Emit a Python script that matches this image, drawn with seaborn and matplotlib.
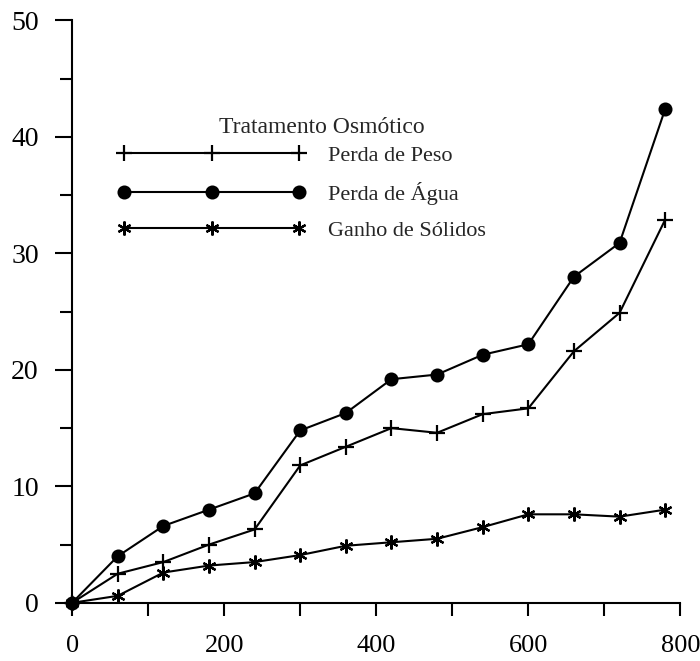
import pandas as pd
import numpy as np
import matplotlib
matplotlib.use('Agg')
import matplotlib.pyplot as plt
import seaborn as sns

# Dados (tempo em minutos, valores em %)
tempo = [0, 60, 120, 180, 240, 300, 360, 420, 480, 540, 600, 660, 720, 780]
perda_peso = [0, 2.5, 3.5, 5.0, 6.3, 11.8, 13.4, 15.0, 14.6, 16.2, 16.7, 21.6, 24.9, 32.9]
perda_agua = [0, 4.0, 6.6, 8.0, 9.4, 14.8, 16.3, 19.2, 19.6, 21.3, 22.2, 28.0, 30.9, 42.4]
ganho_solidos = [0, 0.6, 2.6, 3.2, 3.5, 4.1, 4.9, 5.2, 5.5, 6.5, 7.6, 7.6, 7.4, 8.0]

series = ['Perda de Peso', 'Perda de Água', 'Ganho de Sólidos']
valores = [perda_peso, perda_agua, ganho_solidos]
marcadores = ['+', 'o', (6, 2, 0)]
tamanhos = [11, 8.5, 10]

x_ticks = [0, 200, 400, 600, 800]
x_minor = [100, 300, 500, 700]
y_ticks = [0, 10, 20, 30, 40, 50]
y_minor = [5, 15, 25, 35, 45]

sns.set_style('ticks')
plt.rcParams['font.family'] = ['Liberation Serif', 'DejaVu Serif']

fig = plt.figure(figsize=(7, 6.61), dpi=100)
ax = fig.add_axes([0.103, 0.088, 0.869, 0.881])

for nome, vals, mk, ms in zip(series, valores, marcadores, tamanhos):
    df = pd.DataFrame({'tempo': tempo, 'valor': vals})
    sns.lineplot(data=df, x='tempo', y='valor', ax=ax, color='black',
                 marker=mk, markersize=ms, markeredgecolor='black',
                 markerfacecolor='black', markeredgewidth=1.6,
                 linewidth=1.5, label=nome, clip_on=False)

ax.set_xlim(0, 800)
ax.set_ylim(0, 50)
ax.set_xticks(x_ticks)
ax.set_xticks(x_minor, minor=True)
ax.set_yticks(y_ticks)
ax.set_yticks(y_minor, minor=True)
ax.set_xlabel('')
ax.set_ylabel('')

sns.despine(ax=ax)
for s in ['left', 'bottom']:
    ax.spines[s].set_linewidth(1.5)
    ax.spines[s].set_color('black')

ax.tick_params(axis='y', which='major', length=12, width=1.5, pad=12,
               labelsize=20, colors='black', direction='out')
ax.tick_params(axis='y', which='minor', length=8.5, width=1.5,
               colors='black', direction='out')
ax.tick_params(axis='x', which='both', length=9.5, width=1.5,
               colors='black', direction='out')
ax.tick_params(axis='x', which='major', pad=14, labelsize=19)

# legenda sem moldura, título posto à parte
ax.legend(loc='upper left', bbox_to_anchor=(0.074, 0.785), frameon=False,
          numpoints=3, handlelength=8.5, handletextpad=1.0, labelspacing=0.7,
          fontsize=16, borderpad=0, borderaxespad=0)
ax.text(0.411, 0.8165, 'Tratamento Osmótico', transform=ax.transAxes,
        ha='center', va='center', fontsize=17)

fig.savefig('out.png', dpi=100)
